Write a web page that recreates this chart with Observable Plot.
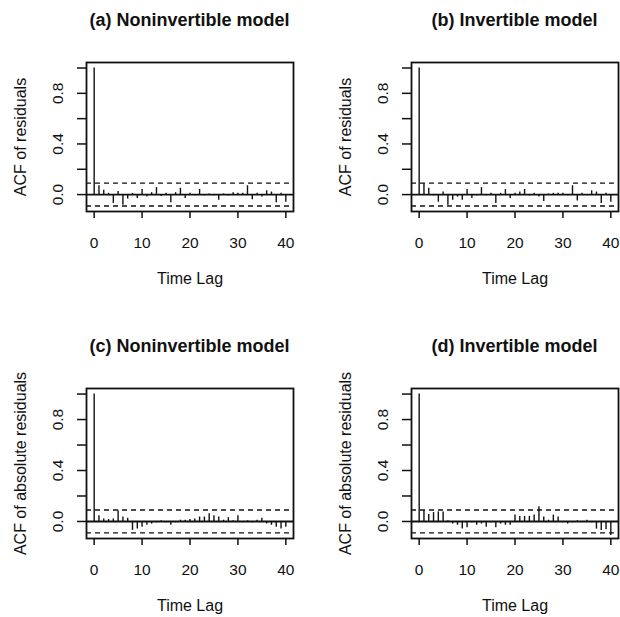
<!DOCTYPE html>
<html><head><meta charset="utf-8">
<script src="https://cdn.jsdelivr.net/npm/d3@7"></script>
<script src="https://cdn.jsdelivr.net/npm/@observablehq/plot@0.6"></script>
<style>
html,body{margin:0;padding:0;background:#fff;overflow:hidden;}
#chart{position:relative;width:620px;height:617px;background:#fff;overflow:hidden;font-family:"Liberation Sans",Arial,Helvetica,sans-serif;}
.panel{position:absolute;}
.panel svg{overflow:visible;}
.title{position:absolute;font-weight:bold;font-size:18px;line-height:20px;text-align:center;white-space:nowrap;color:#111;}
</style></head><body><div id="chart"></div>
<script>
// lags
const lags = [0,1,2,3,4,5,6,7,8,9,10,11,12,13,14,15,16,17,18,19,20,21,22,23,24,25,26,27,28,29,30,31,32,33,34,35,36,37,38,39,40];
// ACF values
const acfA = [1,0.07,0.035,0.01,-0.07,0.025,-0.085,-0.035,0.01,-0.03,0.04,-0.02,0.015,0.055,-0.015,0.01,-0.065,0.015,0.05,-0.03,0.01,-0.01,0.04,-0.01,0.005,-0.01,-0.045,0.005,-0.01,0.015,0.01,0.01,0.07,-0.04,0.01,-0.02,0.03,0.02,-0.065,0.01,-0.06];
const acfB = [1,0.085,0.05,-0.01,-0.06,0.02,-0.085,-0.045,-0.02,-0.045,0.04,-0.03,-0.01,0.055,-0.01,0.01,-0.07,0.01,0.04,-0.03,0.01,0.02,0.04,-0.01,0.01,-0.02,-0.055,0.005,0.01,0.01,0.01,-0.01,0.07,-0.05,0.01,-0.01,0.03,0.02,-0.07,0.01,-0.06];
const acfC = [1,0.045,0.02,0.015,0.02,0.085,0.035,0.025,-0.07,-0.06,-0.045,-0.03,-0.02,-0.01,0.005,-0.01,-0.03,-0.01,0.01,0.01,0.015,0.02,0.035,0.035,0.06,0.045,0.035,0.01,0.03,0.005,0.045,-0.01,0.005,-0.01,0.01,0.025,-0.02,-0.03,-0.045,-0.06,-0.045];
const acfD = [1,0.085,0.055,0.07,0.075,0.075,0.005,-0.02,-0.03,-0.06,-0.05,-0.01,-0.03,-0.02,-0.045,-0.01,-0.05,-0.02,-0.03,-0.03,0.05,0.04,0.04,0.04,0.05,0.115,0.035,0.01,0.05,0.035,-0.01,-0.02,-0.01,0.005,-0.005,0.01,-0.01,-0.06,-0.07,-0.065,-0.11];
// confidence limits
const clims = [0.09, 0.09, 0.09, 0.09];
const titles = ["(a) Noninvertible model","(b) Invertible model","(c) Noninvertible model","(d) Invertible model"];
const yLabels = ["ACF of residuals","ACF of residuals","ACF of absolute residuals","ACF of absolute residuals"];
const xLabel = "Time Lag";
const xTicks = [0,10,20,30,40];
const yTicks = [0,0.2,0.4,0.6,0.8,1.0];
const yTickLabels = [0,0.4,0.8];

const series = [acfA, acfB, acfC, acfD];
const chart = document.getElementById("chart");
const FONT = '"Liberation Sans", Arial, Helvetica, sans-serif';

series.forEach((vals, k) => {
  const col = k % 2, row = Math.floor(k / 2);
  const left = col * 325, top = row * 326;
  const frameLeft = 86, frameW = 207, frameTop = 62;
  const frameH = row === 0 ? 149 : 150;
  const width = col === 0 ? 310 : 295;
  const height = row === 0 ? 300 : 291;
  const data = lags.map((l, i) => ({lag: l, acf: vals[i]}));
  const c = clims[k];

  const svg = Plot.plot({
    width, height,
    marginLeft: frameLeft, marginRight: width - frameLeft - frameW,
    marginTop: frameTop, marginBottom: height - frameTop - frameH,
    style: {fontFamily: FONT, fontSize: "15px", color: "#111", background: "transparent", overflow: "visible"},
    x: {domain: [-1.6, 41.6]},
    y: {domain: [-0.1336, 1.0436]},
    marks: [
      Plot.ruleY([c, -c], {stroke: "#111", strokeWidth: 1.3, strokeDasharray: "5,4"}),
      Plot.ruleY([0], {stroke: "#111", strokeWidth: 1.8}),
      Plot.ruleX(data, {x: "lag", y1: 0, y2: "acf", stroke: "#111", strokeWidth: 1.4}),
      Plot.frame({stroke: "#111", strokeWidth: 1.8}),
      Plot.axisX({ticks: xTicks, tickSize: 7, tickPadding: 18, strokeWidth: 1.5, label: null, fontSize: 15.5}),
      Plot.axisY({ticks: yTicks, tickSize: 9, tickFormat: () => "", strokeWidth: 1.5, label: null}),
      Plot.axisY({ticks: yTickLabels, tickSize: 0, tickPadding: 24, tickRotate: -90, tickFormat: d3.format(".1f"), label: null, fontSize: 15.5}),
      Plot.text([xLabel], {frameAnchor: "bottom", dy: 67, lineAnchor: "middle", textAnchor: "middle", fontSize: 16, fill: "#111"}),
      Plot.text([yLabels[k]], {frameAnchor: "left", dx: -66, rotate: -90, lineAnchor: "middle", textAnchor: "middle", fontSize: 16, fill: "#111"})
    ]
  });
  const wrap = document.createElement("div");
  wrap.className = "panel";
  wrap.style.left = left + "px";
  wrap.style.top = top + "px";
  wrap.appendChild(svg);
  chart.appendChild(wrap);

  const t = document.createElement("div");
  t.className = "title";
  t.textContent = titles[k];
  t.style.left = (left + frameLeft + frameW / 2 - 150) + "px";
  t.style.width = "300px";
  t.style.top = (top + 10) + "px";
  chart.appendChild(t);
});
</script></body></html>
